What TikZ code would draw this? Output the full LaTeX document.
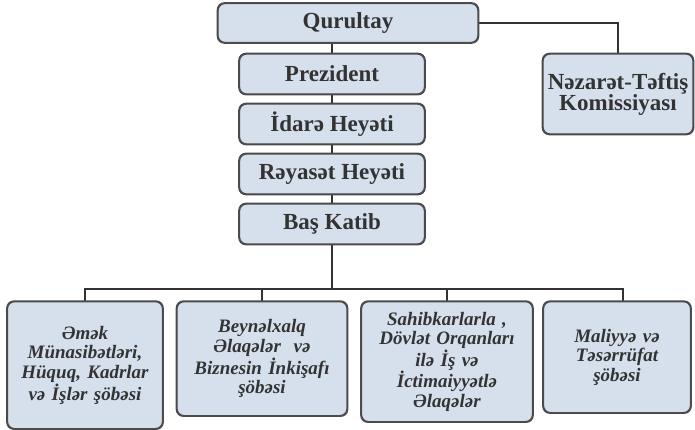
\documentclass[tikz,border=0pt]{standalone}
\usepackage{fontspec}
\setmainfont{Liberation Serif}
\usetikzlibrary{positioning}
\definecolor{boxfill}{RGB}{214,224,237}
\definecolor{boxline}{RGB}{75,75,75}
\tikzset{
    unit/.style={draw=boxline, fill=boxfill, line width=1.3pt, rounded corners=7pt,
        text=black!80, font=\fontsize{23}{21}\selectfont\bfseries, align=center,
        inner sep=2pt},
    dept/.style={unit, anchor=north, text width=#1pt,
        font=\fontsize{19}{19.6}\selectfont\bfseries\itshape},
    link/.style={draw=black!80, line width=1.8pt}
}
\begin{document}
\begin{tikzpicture}[x=1pt,y=-1pt]
        \useasboundingbox (0,0) rectangle (695,430);
        % upper column
        \node[unit, minimum width=260pt, minimum height=39pt] (qurultay) at (348,23) {Qurultay};
        \node[unit, minimum width=185pt, minimum height=40pt] (prezident) at (332,74) {Prezident};
        \node[unit, minimum width=185pt, minimum height=40pt] (idare) at (332,124) {İdarə Heyəti};
        \node[unit, minimum width=185pt, minimum height=40pt] (reyaset) at (332,174) {Rəyasət Heyəti};
        \node[unit, minimum width=185pt, minimum height=40pt] (katib) at (332,224) {Baş Katib};
        \node[unit, minimum width=150pt, minimum height=80pt] (nezaret) at (618,94) {Nəzarət-Təftiş\\Komissiyası};
        % departments
        \node[dept=151, minimum height=127pt] (emek) at (85,301) {Əmək\\Münasibətləri,\\Hüquq, Kadrlar\\və İşlər şöbəsi\\[26pt]};
        \node[dept=166, minimum height=114pt] (beynelxalq) at (262,301) {Beynəlxalq\\Əlaqələr\ \ və\\Biznesin İnkişafı\\şöbəsi};
        \node[dept=167, minimum height=120pt] (sahibkar) at (447,301) {Sahibkarlarla ,\\Dövlət Orqanları\\ilə İş və\\İctimaiyyətlə\\Əlaqələr};
        \node[dept=143, minimum height=111pt] (maliyye) at (617,301) {Maliyyə və\\Təsərrüfat\\şöbəsi\\[30pt]};
        \coordinate (bus) at (332,289);
        \coordinate (drop) at (623,301);
        % connectors
        \draw[link] (qurultay.south -| prezident) -- (prezident);
        \draw[link] (prezident) -- (idare);
        \draw[link] (idare) -- (reyaset);
        \draw[link] (reyaset) -- (katib);
        \draw[link] (katib) -- (bus);
        \draw[link] (qurultay.east) -| (nezaret.north);
        \draw[link] (emek.north) |- (bus) -| (drop);
        \draw[link] (beynelxalq.north) -- (beynelxalq.north |- bus);
        \draw[link] (sahibkar.north) -- (sahibkar.north |- bus);
        % boxes over the link ends
        \foreach \n in {qurultay,prezident,idare,reyaset,katib,nezaret,emek,beynelxalq,sahibkar,maliyye}
            \draw[boxline, line width=1.3pt, rounded corners=7pt] (\n.south west) rectangle (\n.north east);
\end{tikzpicture}
\end{document}
